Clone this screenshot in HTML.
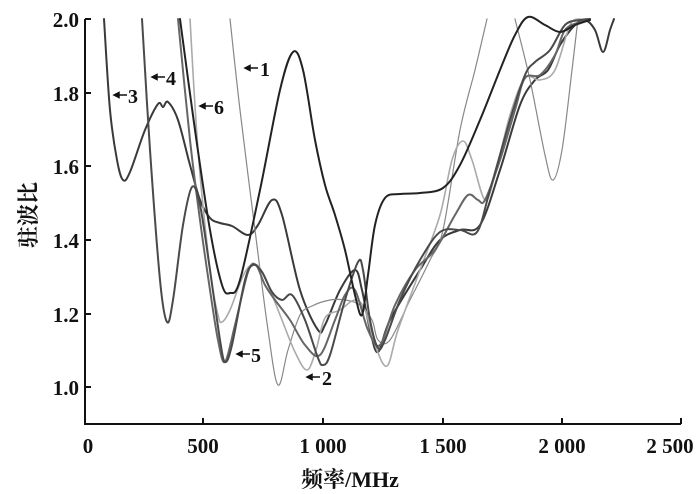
<!DOCTYPE html>
<html><head><meta charset="utf-8"><style>
html,body{margin:0;padding:0;background:#fff}
svg{display:block}
text{font-family:"Liberation Serif","Noto Serif CJK SC",serif;fill:#111;font-weight:bold}
</style></head><body>
<svg id="s" width="700" height="494" viewBox="0 0 700 494" xmlns="http://www.w3.org/2000/svg">
<g stroke="#111" stroke-width="2" fill="none">
<path d="M85,19 V424 H681"/>
<path d="M85,19 h6 M85,93 h6 M85,166 h6 M85,240 h6 M85,314 h6 M85,387 h6"/>
<path d="M203,424 v-6 M323,424 v-6 M443,424 v-6 M562,424 v-6 M681,424 v-6"/>
</g>
<g font-size="21" text-anchor="end">
<text x="79" y="27">2.0</text><text x="79" y="101">1.8</text><text x="79" y="174">1.6</text>
<text x="79" y="248">1.4</text><text x="79" y="322">1.2</text><text x="79" y="395">1.0</text>
</g>
<g font-size="21" text-anchor="middle">
<text x="88" y="453">0</text><text x="203" y="453">500</text><text x="323" y="453">1 000</text>
<text x="443" y="453">1 500</text><text x="562" y="453">2 000</text><text x="670" y="453">2 500</text>
</g>
<text x="350" y="487" font-size="22" text-anchor="middle">频率/MHz</text>
<text x="0" y="0" font-size="22" text-anchor="middle" transform="translate(36,215) rotate(-90)">驻波比</text>
<g id="curves" fill="none" stroke-linejoin="round" stroke-linecap="round"></g>
<g font-size="20">
<text x="260" y="76">1</text><text x="166" y="85">4</text><text x="128" y="103">3</text>
<text x="214" y="114">6</text><text x="251" y="362">5</text><text x="322" y="385">2</text>
</g>
<g stroke="#111" stroke-width="1.5" fill="#111">
<path d="M248,68 h10"/><path d="M245,68 l5,-2.5 v5z"/>
<path d="M155,77 h10"/><path d="M152,77 l5,-2.5 v5z"/>
<path d="M117,95 h10"/><path d="M114,95 l5,-2.5 v5z"/>
<path d="M203,106 h10"/><path d="M200,106 l5,-2.5 v5z"/>
<path d="M240,354 h10"/><path d="M237,354 l5,-2.5 v5z"/>
<path d="M310,377 h10"/><path d="M307,377 l5,-2.5 v5z"/>
</g>
</svg>
<script>
var C=[
["#3a3a3a",2,[[104,19],[110,110],[117,160],[123,180],[130,172],[145,130],[158,104],[163,107],[168,102],[178,120],[190,165],[200,200],[210,218],[220,223],[232,226],[248,235],[258,225],[272,200],[282,215],[300,290],[318,330],[325,325],[340,290],[355,270],[362,290],[370,330],[378,352],[390,320],[420,270],[440,240],[460,230],[480,225],[500,170],[520,105],[535,80],[548,70],[560,45],[575,25],[585,20],[595,30],[603,52],[610,30],[614,19]]],
["#888",1.2,[[230,19],[240,110],[255,230],[268,330],[278,385],[288,350],[300,315],[312,306],[330,300],[345,300],[360,305],[372,320],[378,340],[390,340],[410,300],[430,260],[443,230],[460,130],[475,70],[487,19]]],
["#888",1.2,[[515,19],[530,80],[545,155],[553,180],[562,150],[572,70],[578,19]]],
["#aaa",1.6,[[190,19],[198,150],[210,270],[218,315],[222,322],[230,310],[245,272],[257,265],[268,285],[280,315],[295,352],[307,370],[316,350],[325,318],[340,310],[355,300],[365,310],[375,345],[387,366],[398,330],[420,270],[440,215],[452,160],[463,141],[472,160],[485,200],[495,175],[510,115],[525,78],[540,80],[555,70],[570,25],[580,19]]],
["#666",2,[[178,19],[190,140],[200,220],[210,290],[218,340],[225,362],[235,325],[248,272],[256,265],[265,285],[275,300],[290,320],[305,345],[320,355],[335,320],[345,295],[355,290],[368,330],[380,345],[395,305],[415,270],[435,250],[455,215],[468,195],[478,200],[485,200],[500,160],[515,110],[525,78],[540,75],[555,55],[565,30],[580,22],[590,19]]],
["#4a4a4a",2,[[142,19],[150,150],[160,280],[167,322],[173,300],[183,225],[192,187],[200,205],[210,270],[220,340],[225,362],[232,345],[245,280],[253,265],[262,272],[272,292],[282,300],[292,295],[305,320],[318,358],[323,365],[330,355],[345,300],[358,262],[363,270],[370,320],[378,348],[385,340],[400,300],[420,260],[440,232],[460,230],[477,232],[490,190],[510,120],[525,75],[535,62],[550,50],[565,25],[580,20],[590,19]]],
["#222",2,[[180,19],[195,130],[210,230],[222,285],[230,293],[240,280],[260,190],[280,90],[293,52],[303,70],[315,140],[325,185],[335,215],[345,250],[355,295],[362,315],[368,275],[375,225],[385,198],[400,194],[420,193],[443,188],[460,165],[480,120],[500,70],[515,35],[528,17],[545,25],[560,32],[575,25],[590,20]]]
];
var g=document.getElementById("curves"),ns="http://www.w3.org/2000/svg";
C.forEach(function(c){var p=c[2],d="M"+p[0][0]+","+p[0][1];
for(var i=0;i<p.length-1;i++){var a=p[i-1]||p[i],b=p[i],e=p[i+1],f=p[i+2]||e;
d+=" C"+(b[0]+(e[0]-a[0])/6).toFixed(1)+","+(b[1]+(e[1]-a[1])/6).toFixed(1)+" "+(e[0]-(f[0]-b[0])/6).toFixed(1)+","+(e[1]-(f[1]-b[1])/6).toFixed(1)+" "+e[0]+","+e[1];}
var el=document.createElementNS(ns,"path");el.setAttribute("d",d);el.setAttribute("stroke",c[0]);el.setAttribute("stroke-width",c[1]);g.appendChild(el);});
</script>
</body></html>
